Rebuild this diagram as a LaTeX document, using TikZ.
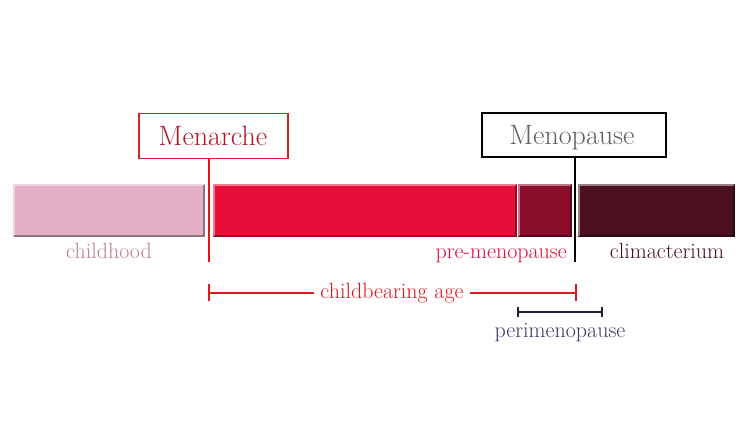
\documentclass[tikz,border=0pt]{standalone}
\usepackage{fontspec}
\newcommand{\thk}{\addfontfeature{FakeBold=0.6}}
\begin{document}
\begin{tikzpicture}[x=1pt,y=-1pt,
  lbl/.style={inner sep=0pt, font=\fontsize{22}{26}\selectfont\thk},
  ttl/.style={inner sep=0pt, anchor=base, font=\fontsize{28}{32}\selectfont\thk},
  box/.style={draw, line width=1.3pt, fill=white, minimum width=#1, minimum height=45pt, inner sep=0pt}]
\definecolor{cPink}{HTML}{E3AFC5}
\definecolor{cRed}{HTML}{E60F3A}
\definecolor{cDRed}{HTML}{8A0E2B}
\definecolor{cMaroon}{HTML}{4A1020}
\definecolor{cBoxRed}{HTML}{D3222C}
\definecolor{cTxtRed}{HTML}{B01828}
\definecolor{cGray}{HTML}{606060}
\definecolor{cChild}{HTML}{BF7C96}
\definecolor{cPreM}{HTML}{E3103A}
\definecolor{cPurple}{HTML}{2A1A48}
\definecolor{cPurTxt}{HTML}{45356A}
\definecolor{cLine}{HTML}{E2141E}
\fill[white] (0,0) rectangle (740,429);
\useasboundingbox (0,0) rectangle (740,429);
% bars
\newcommand{\bevbar}[5]{%
  \fill[#5] (#1,#2) rectangle (#3,#4);
  \draw[white, opacity=0.45, line width=1.2pt] (#1+1,#4-1) -- (#1+1,#2+1) -- (#3-1,#2+1);
  \draw[black, opacity=0.35, line width=1.6pt] (#1+1,#4-1) -- (#3-1,#4-1) -- (#3-1,#2+1);
}
\bevbar{13}{184}{205}{237}{cPink}
\bevbar{213}{184}{517}{237}{cRed}
\bevbar{518}{184}{572}{237}{cDRed}
\bevbar{578}{184}{735}{237}{cMaroon}
% boxes
\node[box=149pt, draw=cBoxRed] (men) at (213.5,136) {};
\node[box=184pt, draw=black, minimum height=44pt] (meno) at (574,135) {};
\node[ttl, text=cTxtRed] (menT) at (213,145) {Menarche};
\node[ttl, text=cGray] (menoT) at (572,144) {Menopause};
% marker lines
\coordinate (mEnd) at (209,262);
\coordinate (pEnd) at (575,262);
\draw[cLine, line width=2pt] (men.south -| mEnd) -- (mEnd);
\draw[black, line width=2.2pt] (meno.south -| pEnd) -- (pEnd);
% labels
\node[lbl, text=cChild, anchor=base] (child) at (109,258) {childhood};
\node[lbl, text=cPreM, anchor=base east] (prem) at (567,258) {pre-menopause};
\node[lbl, text=cMaroon, anchor=base] (clim) at (667,258) {climacterium};
% childbearing age
\coordinate (cbL) at (209,293);
\coordinate (cbR) at (576,293);
\node[lbl, text=cLine, anchor=base] (cb) at (392,298) {childbearing age};
\draw[cLine, line width=1.6pt] (cbL) -- ([xshift=-6pt]cb.west |- cbL);
\draw[cLine, line width=1.6pt] ([xshift=6pt]cb.east |- cbR) -- (cbR);
\draw[cLine, line width=1.6pt] ([yshift=-8pt]cbL) -- ([yshift=9pt]cbL);
\draw[cLine, line width=1.6pt] ([yshift=-8pt]cbR) -- ([yshift=9pt]cbR);
% perimenopause
\coordinate (pL) at (518,312);
\coordinate (pR) at (602,312);
\draw[cPurple, line width=2.4pt] (pL) -- (pR);
\draw[cPurple, line width=1.6pt] ([yshift=-5pt]pL) -- ([yshift=5pt]pL);
\draw[cPurple, line width=1.6pt] ([yshift=-5pt]pR) -- ([yshift=5pt]pR);
\node[lbl, text=cPurTxt, anchor=base] (peri) at (560,337) {perimenopause};
\end{tikzpicture}
\end{document}
